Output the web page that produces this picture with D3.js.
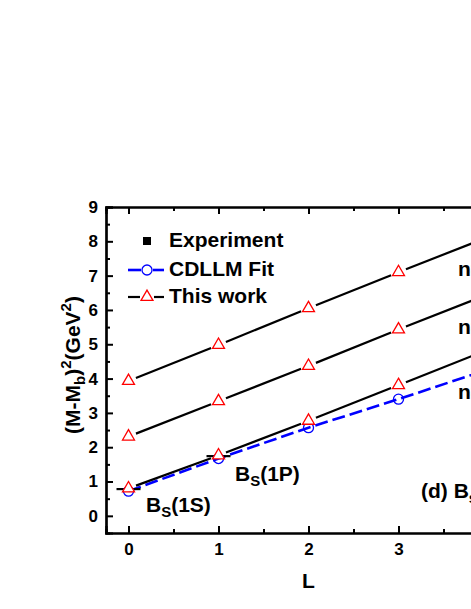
<!DOCTYPE html>
<html>
<head>
<meta charset="utf-8">
<script src="https://cdn.jsdelivr.net/npm/d3@7"></script>
<style>
  body { margin: 0; background: #fff; }
  text { font-family: "Liberation Sans", Arial, sans-serif; font-weight: bold; fill: #000; }
</style>
</head>
<body>
<div id="chart"></div>
<script>
const width = 471;
const height = 609;

// data
const orbitalL = [0, 1, 2, 3, 4];
const thisWorkN1 = [0.80, 1.76, 2.77, 3.81, 4.85];
const thisWorkN2 = [2.31, 3.34, 4.37, 5.43, 6.46];
const thisWorkN3 = [3.93, 4.98, 6.05, 7.10, 8.13];
const cdllmFit = [0.72, 1.67, 2.57, 3.40, 4.27];
const experimentL = [0, 1];
const experiment = [0.78, 1.74];
const xTickLabels = [0, 1, 2, 3, 4];
const yTickLabels = [0, 1, 2, 3, 4, 5, 6, 7, 8, 9];
const seriesLabels = ["n=1", "n=2", "n=3"];
const legendLabels = ["Experiment", "CDLLM Fit", "This work"];

const x = d3.scaleLinear().domain([-0.25, 4.25]).range([106, 511]);
const y = d3.scaleLinear().domain([-0.5, 9]).range([533, 207]);

const svg = d3.select("#chart").append("svg")
  .attr("width", width)
  .attr("height", height);

// axes: ticks point inward
function tickAxes() {
  const g = svg.append("g");
  const xMinor = d3.range(0.5, 4.25, 1);
  const yMinor = d3.range(0.5, 9, 1);

  g.append("g").attr("transform", `translate(0,${y(-0.5)})`)
    .call(d3.axisBottom(x).tickValues(xTickLabels).tickSize(-7).tickPadding(10).tickFormat(d3.format("d")));
  g.append("g").attr("transform", `translate(0,${y(-0.5)})`)
    .call(d3.axisBottom(x).tickValues(xMinor).tickSize(-4).tickFormat(""));
  g.append("g").attr("transform", `translate(0,${y(9)})`)
    .call(d3.axisTop(x).tickValues(xTickLabels).tickSize(-7).tickFormat(""));
  g.append("g").attr("transform", `translate(0,${y(9)})`)
    .call(d3.axisTop(x).tickValues(xMinor).tickSize(-4).tickFormat(""));
  g.append("g").attr("transform", `translate(${x(-0.25)},0)`)
    .call(d3.axisLeft(y).tickValues(yTickLabels).tickSize(-7).tickPadding(8).tickFormat(d3.format("d")));
  g.append("g").attr("transform", `translate(${x(-0.25)},0)`)
    .call(d3.axisLeft(y).tickValues(yMinor).tickSize(-4).tickFormat(""));

  g.selectAll(".domain").attr("stroke", "#000").attr("stroke-width", 2.2);
  g.selectAll(".tick line").attr("stroke", "#000").attr("stroke-width", 2);
  g.selectAll(".tick text")
    .style("font-family", "'Liberation Sans', Arial, sans-serif")
    .style("font-weight", "bold")
    .style("font-size", "17px")
    .attr("fill", "#000");
}
tickAxes();

// axis titles
svg.append("text")
  .attr("x", x(2)).attr("y", 588)
  .attr("text-anchor", "middle")
  .style("font-size", "21px")
  .text("L");

const yTitle = svg.append("text")
  .attr("transform", "translate(80,365) rotate(-90)")
  .attr("text-anchor", "middle")
  .style("font-size", "21px");
yTitle.append("tspan").text("(M-M");
yTitle.append("tspan").attr("dy", 5).style("font-size", "15px").text("b");
yTitle.append("tspan").attr("dy", -5).text(")");
yTitle.append("tspan").attr("dy", -9).style("font-size", "15px").text("2");
yTitle.append("tspan").attr("dy", 9).text("(GeV");
yTitle.append("tspan").attr("dy", -9).style("font-size", "15px").text("2");
yTitle.append("tspan").attr("dy", 9).text(")");

// line segments between points, leaving a gap around each symbol
function gapped(values, gap) {
  const segs = [];
  for (let i = 0; i < values.length - 1; i++) {
    const x0 = x(orbitalL[i]), y0 = y(values[i]);
    const x1 = x(orbitalL[i + 1]), y1 = y(values[i + 1]);
    const len = Math.hypot(x1 - x0, y1 - y0);
    const ux = (x1 - x0) / len, uy = (y1 - y0) / len;
    segs.push([[x0 + ux * gap, y0 + uy * gap], [x1 - ux * gap, y1 - uy * gap]]);
  }
  return segs;
}

const triangle = d3.symbol().type(d3.symbolTriangle).size(62);

// CDLLM fit (blue dashed)
svg.append("path")
  .attr("d", d3.line()(orbitalL.map((l, i) => [x(l), y(cdllmFit[i])])))
  .attr("fill", "none")
  .attr("stroke", "#0000ff")
  .attr("stroke-width", 2.6)
  .attr("stroke-dasharray", "13,5");

// this work (black solid)
[thisWorkN1, thisWorkN2, thisWorkN3].forEach(series => {
  svg.append("g").selectAll("line")
    .data(gapped(series, 8))
    .join("line")
    .attr("x1", d => d[0][0]).attr("y1", d => d[0][1])
    .attr("x2", d => d[1][0]).attr("y2", d => d[1][1])
    .attr("stroke", "#000")
    .attr("stroke-width", 2.2);
});

// experiment bars
svg.append("g").selectAll("line")
  .data(experimentL.map((l, i) => [l, experiment[i]]))
  .join("line")
  .attr("x1", d => x(d[0]) - 12).attr("x2", d => x(d[0]) + 12)
  .attr("y1", d => y(d[1])).attr("y2", d => y(d[1]))
  .attr("stroke", "#000")
  .attr("stroke-width", 2.2);

// circles
svg.append("g").selectAll("circle")
  .data(orbitalL.map((l, i) => [l, cdllmFit[i]]))
  .join("circle")
  .attr("cx", d => x(d[0])).attr("cy", d => y(d[1]))
  .attr("r", 5)
  .attr("fill", "none")
  .attr("stroke", "#0000ff")
  .attr("stroke-width", 1.3);

// triangles
[thisWorkN1, thisWorkN2, thisWorkN3].forEach(series => {
  svg.append("g").selectAll("path")
    .data(orbitalL.map((l, i) => [l, series[i]]))
    .join("path")
    .attr("d", triangle)
    .attr("transform", d => `translate(${x(d[0])},${y(d[1])})`)
    .attr("fill", "#fff")
    .attr("stroke", "#ff0000")
    .attr("stroke-width", 1.3);
});

// n labels on the right
const nLabelY = [3.4, 5.3, 7.0];
svg.append("g").selectAll("text")
  .data(seriesLabels)
  .join("text")
  .attr("x", x(3.66))
  .attr("y", (d, i) => y(nLabelY[i]))
  .style("font-size", "21px")
  .text(d => d);

// state labels
function stateLabel(px, py, state) {
  const t = svg.append("text").attr("x", px).attr("y", py).style("font-size", "21px");
  t.append("tspan").text("B");
  t.append("tspan").attr("dy", 5).style("font-size", "15px").text("S");
  t.append("tspan").attr("dy", -5).text(`(${state})`);
}
stateLabel(146, 512, "1S");
stateLabel(235, 481, "1P");

const panel = svg.append("text").attr("x", 421).attr("y", 498).style("font-size", "21px");
panel.append("tspan").text("(d) B");
panel.append("tspan").attr("dy", 5).style("font-size", "15px").text("s");

// legend
const legend = svg.append("g");
const legendX = 147;
const legendY = [241, 270, 297];
legend.append("rect")
  .attr("x", legendX - 4).attr("y", legendY[0] - 4)
  .attr("width", 8).attr("height", 8)
  .attr("fill", "#000");
legend.append("line")
  .attr("x1", legendX - 19).attr("x2", legendX - 6)
  .attr("y1", legendY[1]).attr("y2", legendY[1])
  .attr("stroke", "#0000ff").attr("stroke-width", 2.6);
legend.append("line")
  .attr("x1", legendX + 6).attr("x2", legendX + 17)
  .attr("y1", legendY[1]).attr("y2", legendY[1])
  .attr("stroke", "#0000ff").attr("stroke-width", 2.6);
legend.append("circle")
  .attr("cx", legendX).attr("cy", legendY[1]).attr("r", 5)
  .attr("fill", "none").attr("stroke", "#0000ff").attr("stroke-width", 1.3);
legend.append("line")
  .attr("x1", legendX - 19).attr("x2", legendX - 7)
  .attr("y1", legendY[2]).attr("y2", legendY[2])
  .attr("stroke", "#000").attr("stroke-width", 2.2);
legend.append("line")
  .attr("x1", legendX + 7).attr("x2", legendX + 17)
  .attr("y1", legendY[2]).attr("y2", legendY[2])
  .attr("stroke", "#000").attr("stroke-width", 2.2);
legend.append("path")
  .attr("d", triangle)
  .attr("transform", `translate(${legendX},${legendY[2]})`)
  .attr("fill", "#fff").attr("stroke", "#ff0000").attr("stroke-width", 1.3);
legend.selectAll("text.label")
  .data(legendLabels)
  .join("text")
  .attr("class", "label")
  .attr("x", 169)
  .attr("y", (d, i) => legendY[i] + 6)
  .style("font-size", "21px")
  .text(d => d);
</script>
</body>
</html>
